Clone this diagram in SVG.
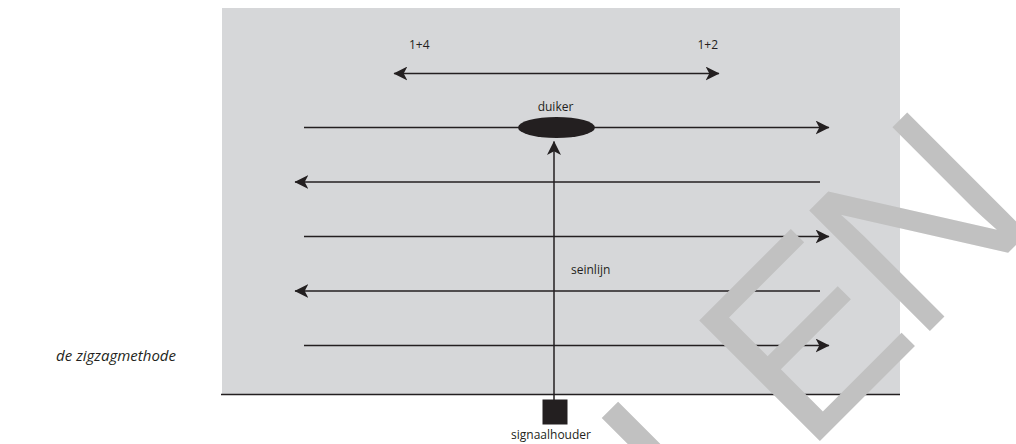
<svg xmlns="http://www.w3.org/2000/svg" width="1016" height="444" viewBox="0 0 1016 444">
  <style>
    .ln { stroke: #231f20; stroke-width: 1.5; fill: none; }
    .lbl { font-family: "Open Sans", "Noto Sans", "Liberation Sans", sans-serif; font-size: 12px; fill: #231f20; }
    .cap { font-family: "Open Sans", "Noto Sans", "Liberation Sans", sans-serif; font-size: 15px; font-style: italic; fill: #231f20; }
    .wm { font-family: "Liberation Sans", Arial, sans-serif; font-size: 248px; fill: #c1c1c1; }
  </style>
  <defs>
    <marker id="ah" markerUnits="userSpaceOnUse" markerWidth="14" markerHeight="14" viewBox="0 0 13 13" refX="12.5" refY="6.5" orient="auto-start-reverse">
      <path d="M0,0 L13,6.5 L0,13 L3.5,6.5 Z" fill="#231f20"/>
    </marker>
  </defs>

  <rect id="veld" x="222" y="8" width="678" height="386" fill="#d6d7d9"/>

  <g id="connectors">
    <line class="ln" x1="221" y1="394.5" x2="900" y2="394.5"/>
    <line class="ln" x1="394" y1="73.5" x2="719" y2="73.5" marker-start="url(#ah)" marker-end="url(#ah)"/>
    <line class="ln" x1="304" y1="127.5" x2="829" y2="127.5" marker-end="url(#ah)"/>
    <line class="ln" x1="820" y1="182" x2="295" y2="182" marker-end="url(#ah)"/>
    <line class="ln" x1="304" y1="236.5" x2="829" y2="236.5" marker-end="url(#ah)"/>
    <line class="ln" x1="820" y1="291" x2="295" y2="291" marker-end="url(#ah)"/>
    <line class="ln" x1="304" y1="345.5" x2="829" y2="345.5" marker-end="url(#ah)"/>
    <line class="ln" x1="554" y1="400" x2="554" y2="141.5" marker-end="url(#ah)"/>
  </g>

  <g id="duiker">
    <ellipse cx="556.5" cy="127.5" rx="38.5" ry="10.5" fill="#231f20"/>
    <text class="lbl" x="555.5" y="111" text-anchor="middle">duiker</text>
  </g>

  <g id="signaalhouder">
    <rect x="542.5" y="399.5" width="25" height="25" fill="#231f20"/>
    <text class="lbl" x="551" y="439" text-anchor="middle">signaalhouder</text>
  </g>

  <g id="labels">
    <text class="lbl" x="409" y="48.5">1+4</text>
    <text class="lbl" x="697.5" y="48.5">1+2</text>
    <text class="lbl" x="571" y="274">seinlijn</text>
    <text class="cap" x="176" y="361" text-anchor="end">de zigzagmethode</text>
  </g>

  <text class="wm" transform="translate(708,553) rotate(-45)">LE<tspan dx="-10">N</tspan></text>
</svg>
